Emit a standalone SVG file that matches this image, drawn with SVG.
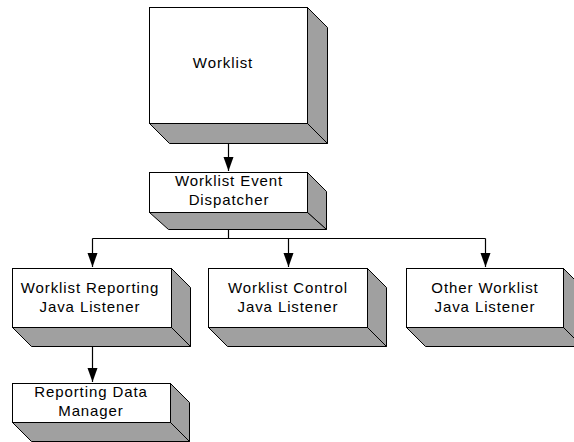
<svg xmlns="http://www.w3.org/2000/svg" width="574" height="442" viewBox="0 0 574 442">
<style>
.front{fill:#ffffff;stroke:#000;stroke-width:1}
.side{fill:#a0a0a0;stroke:#000;stroke-width:1;stroke-linejoin:miter}
.lbl{font-family:"Liberation Sans",Arial,sans-serif;font-size:15px;letter-spacing:0.9px;fill:#000;text-anchor:middle}
.conn{stroke:#000;stroke-width:1.2;fill:none}
</style>
<defs>
<marker id="arr" markerUnits="userSpaceOnUse" markerWidth="14" markerHeight="16" viewBox="0 0 14 16" refX="14" refY="6" orient="auto">
<path d="M0,1 L14,6 L0,11 Z" fill="#000"/>
</marker>
</defs>
<rect width="574" height="442" fill="#fff"/>
<g id="connectors">
<path class="conn" d="M228.5,132 V171" marker-end="url(#arr)"/>
<path class="conn" d="M228.5,220 V238.5"/>
<path class="conn" d="M92.5,238.5 H485.5"/>
<path class="conn" d="M92.5,238.5 V267" marker-end="url(#arr)"/>
<path class="conn" d="M288.5,238.5 V267" marker-end="url(#arr)"/>
<path class="conn" d="M485.5,238.5 V267" marker-end="url(#arr)"/>
<path class="conn" d="M92.5,337 V382" marker-end="url(#arr)"/>
</g>
<g id="worklist">
<polygon class="side" points="307.5,7.5 327.5,27.5 327.5,143.5 307.5,123.5"/>
<polygon class="side" points="149.5,123.5 307.5,123.5 327.5,143.5 169.5,143.5"/>
<rect class="front" x="149.5" y="7.5" width="158" height="116"/>
<text class="lbl" x="223" y="68">Worklist</text>
</g>
<g id="dispatcher">
<polygon class="side" points="307.5,172.5 326.5,191.5 326.5,229.5 307.5,212.5"/>
<polygon class="side" points="149.5,212.5 307.5,212.5 326.5,229.5 168.5,229.5"/>
<rect class="front" x="149.5" y="172.5" width="158" height="40"/>
<text class="lbl" x="229" y="186">Worklist Event</text>
<text class="lbl" x="229" y="205">Dispatcher</text>
</g>
<g id="reporting-listener">
<polygon class="side" points="171.5,268.5 190.5,287.5 190.5,346.5 171.5,327.5"/>
<polygon class="side" points="12.5,327.5 171.5,327.5 190.5,346.5 31.5,346.5"/>
<rect class="front" x="12.5" y="268.5" width="159" height="59"/>
<text class="lbl" x="90" y="293">Worklist Reporting</text>
<text class="lbl" x="90" y="312">Java Listener</text>
</g>
<g id="control-listener">
<polygon class="side" points="367.5,268.5 386.5,287.5 386.5,346.5 367.5,327.5"/>
<polygon class="side" points="208.5,327.5 367.5,327.5 386.5,346.5 227.5,346.5"/>
<rect class="front" x="208.5" y="268.5" width="159" height="59"/>
<text class="lbl" x="288" y="293">Worklist Control</text>
<text class="lbl" x="288" y="312">Java Listener</text>
</g>
<g id="other-listener">
<polygon class="side" points="563.5,268.5 582.5,287.5 582.5,346.5 563.5,327.5"/>
<polygon class="side" points="406.5,327.5 563.5,327.5 582.5,346.5 425.5,346.5"/>
<rect class="front" x="406.5" y="268.5" width="157" height="59"/>
<text class="lbl" x="485" y="293">Other Worklist</text>
<text class="lbl" x="485" y="312">Java Listener</text>
</g>
<g id="data-manager">
<polygon class="side" points="170.5,383.5 189.5,402.5 189.5,441.5 170.5,422.5"/>
<polygon class="side" points="12.5,422.5 170.5,422.5 189.5,441.5 31.5,441.5"/>
<rect class="front" x="12.5" y="383.5" width="158" height="39"/>
<text class="lbl" x="91" y="397">Reporting Data</text>
<text class="lbl" x="91" y="416">Manager</text>
</g>
</svg>
